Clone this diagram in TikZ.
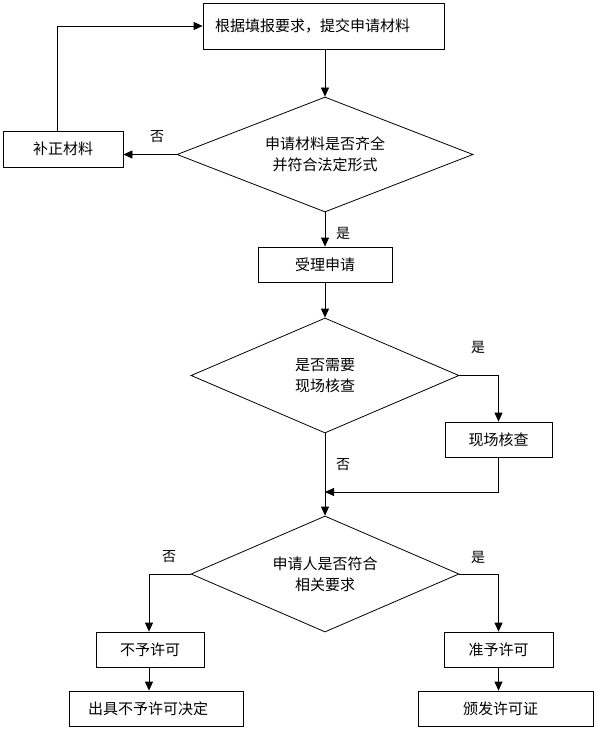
\documentclass[tikz,border=0pt]{standalone}
\usepackage{fontspec}
\setmainfont{Noto Sans CJK SC}
\usetikzlibrary{shapes.geometric,arrows.meta}
\newcommand\mainfs{\fontsize{15pt}{21pt}\selectfont}
\newcommand\labfs{\fontsize{14pt}{18pt}\selectfont}
\begin{document}
\begin{tikzpicture}[x=1pt,y=-1pt,line width=0.8pt,
  box/.style={draw,rectangle,minimum height=35pt,inner sep=0pt,font=\mainfs},
  dec/.style={draw,diamond,aspect=2.5,inner sep=0pt,minimum height=115pt,align=center,font=\mainfs},
  arr/.style={-{Triangle[length=9pt,width=8pt]}},
  lab/.style={inner sep=0pt,font=\labfs}]
\useasboundingbox (0,0) rectangle (596,730);
\fill[white] (0,0) rectangle (596,730);

\node[box,minimum width=241pt,minimum height=46pt,text width=217pt,align=left,inner xsep=12pt] (b1) at (323.5,26) {根据填报要求，提交申请材料};
\node[box,minimum width=120pt,minimum height=36pt] (bz) at (63,149) {补正材料};
\node[dec,minimum width=296pt] (d1) at (325,154.5) {申请材料是否齐全\\并符合法定形式};
\node[box,minimum width=134pt] (sl) at (325,264.5) {受理申请};
\node[dec,minimum width=268pt] (d2) at (325,375.5) {是否需要\\现场核查};
\node[box,minimum width=107pt] (xc) at (498.5,439.5) {现场核查};
\coordinate (m) at (325,492);
\node[dec,minimum width=268pt,minimum height=116pt] (d3) at (325,574) {申请人是否符合\\相关要求};
\node[box,minimum width=108pt] (bx) at (150,649.5) {不予许可};
\node[box,minimum width=174pt,text width=136pt,align=left,inner xsep=19pt] (cj) at (156,708.5) {出具不予许可决定};
\node[box,minimum width=109pt] (zy) at (498.5,649.5) {准予许可};
\node[box,minimum width=175pt,text width=85pt,align=left,inner xsep=45pt] (bf) at (505.5,708.5) {颁发许可证};

\draw[arr] (b1.south -| d1.north) -- (d1.north);
\draw[arr] (d1.west) -- (d1.west -| bz.east);
\draw[arr] ([xshift=-6pt]bz.north) |- (b1.west);
\draw[arr] (d1.south) -- (sl.north);
\draw[arr] (sl.south) -- (d2.north);
\draw[arr] (d2.east) -| (xc.north);
\draw[arr] (xc.south) |- (m);
\draw[arr] (d2.south) -- (d3.north);
\draw[arr] (d3.west) -| ([xshift=-1pt]bx.north);
\draw[arr] (d3.east) -| (zy.north);
\draw[arr] ([xshift=-1pt]bx.south) -- ([xshift=-1pt]bx.south |- cj.north);
\draw[arr] (zy.south) -- (zy.south |- bf.north);

\node[lab] (l1) at (157,137) {否};
\node[lab] (l2) at (343,233) {是};
\node[lab] (l3) at (478,347) {是};
\node[lab] (l4) at (343,465) {否};
\node[lab] (l5) at (169,557) {否};
\node[lab] (l6) at (478,557) {是};
\end{tikzpicture}
\end{document}
